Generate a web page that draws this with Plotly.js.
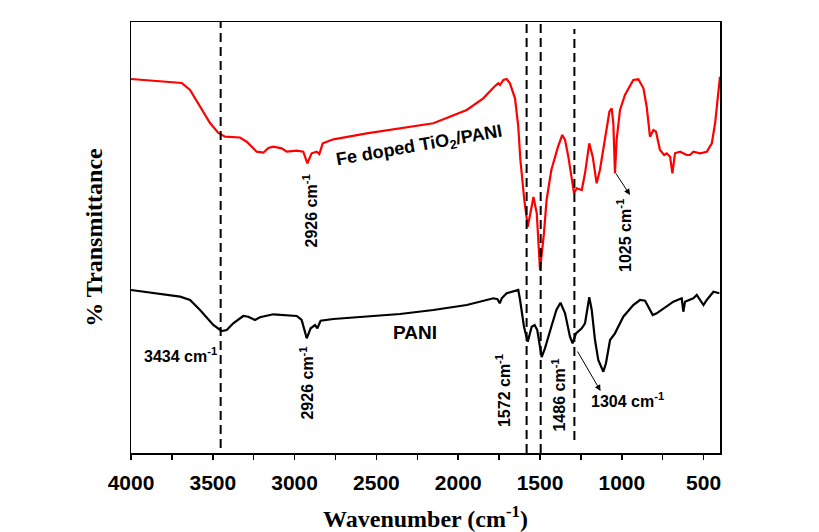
<!DOCTYPE html>
<html>
<head>
<meta charset="utf-8">
<script src="https://cdn.plot.ly/plotly-3.0.1.min.js"></script>
<style>html,body{margin:0;padding:0;background:#fff;}#chart{width:819px;height:532px;}</style>
</head>
<body>
<div id="chart"></div>
<script>
// Fe doped TiO2/PANI (red) — wavenumber (cm-1) and relative transmittance
const feWavenumber = [4000,3850,3690,3639,3578,3517,3466,3425,3334,3293,3232,3191,3160,3130,3079,3048,2987,2947,2922,2896,2865,2849,2828,2763,2559,2356,2152,1948,1847,1775,1755,1745,1724,1704,1684,1653,1633,1620,1600,1596,1575,1551,1540,1520,1500,1476,1460,1431,1390,1364,1347,1327,1306,1292,1276,1245,1225,1199,1178,1154,1134,1103,1076,1062,1052,1042,1032,1011,981,930,899,868,848,828,807,791,767,741,726,705,691,675,644,603,583,563,522,481,450,430,416,400];
const feTransmittance = [374,372,370,363,346.3,330,320,316.3,315.5,311.3,301.3,300.3,305,306.3,304.7,301.3,302.3,301.3,289.7,299.7,301.3,299,309.7,313.7,319.7,324.7,329.7,343,354.7,367,369.7,368,373,374,369.7,354.7,326.3,293,258,253,226.3,248,256,239.7,183,219.7,253,283,306.3,318,313,296.3,276.3,259.7,264.7,263,279.7,309.7,296.3,269.7,283,313,341.3,344.7,329.7,279.7,313,343,358,373,373.7,364.7,346.3,316.3,323,321.3,303,298,299.7,296.3,279.7,299.7,301.3,298,298,301.3,299.7,301.3,309.7,329.7,353,376.3];

// PANI (black)
const paniWavenumber = [4000,3850,3700,3639,3578,3497,3446,3415,3375,3314,3283,3242,3212,3130,3048,2987,2957,2926,2902,2875,2861,2841,2763,2559,2356,2152,1948,1785,1760,1746,1734,1704,1663,1633,1622,1598,1575,1551,1533,1517,1490,1470,1431,1400,1375,1347,1317,1301,1280,1245,1225,1199,1184,1164,1144,1113,1097,1072,1042,991,930,889,858,838,811,787,726,685,634,624,614,563,542,522,501,481,440,404];
const paniTransmittance = [163,160,156.3,153,143,128,122,123,129.7,137,136.3,133,135.7,138.7,138,137,133,114.7,124.7,128,124.7,132.3,134,136.3,139,143,148,154.7,153.7,149.7,154.7,159.7,161.3,163,153,126.3,111.3,126.3,128,123,96,104.7,126.3,143,150.3,139.7,116.3,109.7,119.7,124.7,129.7,155.7,143,113,93,81.3,89.7,113,119.7,136.3,148,153,152.3,146.3,138,139.7,146.3,151.3,154.7,141.3,151.3,154.7,158,153,148,153,161.3,159.7];

// marker (dashed) lines and x tick labels
const bandPositions = [3452, 1582, 1496, 1290];
const bandBottoms = [5, 0, 0, 13];
const bandTops = [431, 431, 431, 424];
const xTickValues = [4000,3500,3000,2500,2000,1500,1000,500];
const xTickLabels = ['4000','3500','3000','2500','2000','1500','1000','500'];

const lblFont = {family: 'Liberation Sans, Arial, sans-serif', size: 16, color: '#000', weight: 'bold'};

const traces = [
  {x: feWavenumber, y: feTransmittance, type: 'scatter', mode: 'lines', line: {color: '#ff0000', width: 2.2}, showlegend: false, hoverinfo: 'skip'},
  {x: paniWavenumber, y: paniTransmittance, type: 'scatter', mode: 'lines', line: {color: '#000000', width: 2.2}, showlegend: false, hoverinfo: 'skip'}
];

const shapes = bandPositions.map((b, i) => ({
  type: 'line', xref: 'x', yref: 'y', x0: b, x1: b, y0: bandBottoms[i], y1: bandTops[i],
  line: {color: '#000', width: 2, dash: '9px,5px'}
}));

const annotations = [
  {x: 2240, y: 307, text: 'Fe doped TiO<sub>2</sub>/PANI', showarrow: false, textangle: -10, font: Object.assign({}, lblFont, {size: 18})},
  {x: 2264, y: 121, text: 'PANI', showarrow: false, font: Object.assign({}, lblFont, {size: 19})},
  {x: 2906, y: 242.5, text: '2926 cm<sup>-1</sup>', showarrow: false, textangle: -90, font: lblFont},
  {x: 2927, y: 70, text: '2926 cm<sup>-1</sup>', showarrow: false, textangle: -90, font: lblFont},
  {x: 3700, y: 98, text: '3434 cm<sup>-1</sup>', showarrow: false, font: lblFont},
  {x: 987, y: 218, text: '1025 cm<sup>-1</sup>', showarrow: false, textangle: -90, font: lblFont},
  {x: 1729, y: 62.5, text: '1572 cm<sup>-1</sup>', showarrow: false, textangle: -90, font: lblFont},
  {x: 1390, y: 57.5, text: '1486 cm<sup>-1</sup>', showarrow: false, textangle: -90, font: lblFont},
  {x: 965, y: 53, text: '1304 cm<sup>-1</sup>', showarrow: false, font: lblFont},
  {x: 950, y: 258, ax: 1042, ay: 281, axref: 'x', ayref: 'y', text: '', showarrow: true, arrowhead: 2, arrowsize: 1.2, arrowwidth: 1, arrowcolor: '#000'},
  {x: 1130, y: 62, ax: 1276, ay: 103, axref: 'x', ayref: 'y', text: '', showarrow: true, arrowhead: 2, arrowsize: 1.2, arrowwidth: 1, arrowcolor: '#000'}
];

const layout = {
  width: 819, height: 532,
  margin: {l: 131, r: 99, t: 22, b: 79, pad: 0},
  paper_bgcolor: '#fff', plot_bgcolor: '#fff',
  showlegend: false,
  xaxis: {
    range: [4000, 400], showgrid: false, zeroline: false,
    showline: true, linecolor: '#000', linewidth: 1.5, mirror: true,
    tickmode: 'array', tickvals: xTickValues, ticktext: xTickLabels,
    ticks: 'outside', ticklen: 5, tickwidth: 1.5, tickcolor: '#000',
    minor: {dtick: 250, tick0: 0, ticks: 'outside', ticklen: 5, tickwidth: 1.5, tickcolor: '#000', showgrid: false},
    ticklabelstandoff: 5,
    tickfont: {family: 'Liberation Sans, Arial, sans-serif', size: 21, color: '#000', weight: 'bold'},
    title: {text: 'Wavenumber (cm<sup>-1</sup>)', standoff: 18,
      font: {family: 'Liberation Serif, Times New Roman, serif', size: 24, color: '#000', weight: 'bold'}},
    automargin: false
  },
  yaxis: {
    range: [0, 431], showgrid: false, zeroline: false,
    showline: true, linecolor: '#000', linewidth: 1.5, mirror: true,
    ticks: '', showticklabels: false,
    title: {text: '% Transmittance', standoff: 20,
      font: {family: 'Liberation Serif, Times New Roman, serif', size: 24, color: '#000', weight: 'bold'}},
    automargin: false
  },
  shapes: shapes,
  annotations: annotations
};

Plotly.newPlot('chart', traces, layout, {staticPlot: true, displayModeBar: false});
</script>
</body>
</html>
